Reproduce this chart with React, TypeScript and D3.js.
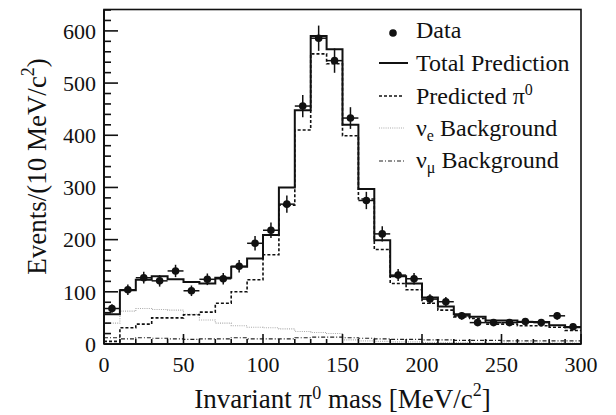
import React from 'react';
import * as d3 from 'd3';

const binCenters = [5, 15, 25, 35, 45, 55, 65, 75, 85, 95, 105, 115, 125, 135, 145, 155, 165, 175, 185, 195, 205, 215, 225, 235, 245, 255, 265, 275, 285, 295];
const dataCounts = [68, 104, 127, 121, 140, 102, 124, 125, 149, 193, 218, 268, 456, 586, 543, 433, 275, 211, 132, 125, 86, 81, 54, 41, 41, 41, 43, 41, 54, 33];
const totalPrediction = [57, 103, 123, 130, 124, 119, 116, 127, 148, 164, 209, 300, 448, 590, 565, 420, 297, 199, 130, 116, 89, 72, 57, 52, 45, 45, 42, 42, 36, 32];
const predictedPi0 = [5, 31, 38, 50, 50, 56, 61, 78, 100, 123, 171, 266, 410, 556, 537, 399, 278, 181, 116, 104, 78, 65, 52, 49, 38, 38, 35, 35, 32, 26];
const nueBackground = [40, 63, 68, 66, 65, 57, 46, 40, 35, 32, 31, 29, 24, 22, 20, 8, 6, 5, 4, 4, 3, 3, 3, 2, 2, 2, 2, 2, 2, 2];
const numuBackground = [12, 10, 12, 11, 10, 9, 10, 10, 12, 10, 10, 10, 12, 13, 13, 12, 11, 10, 9, 9, 8, 8, 7, 7, 7, 6, 6, 6, 6, 6];
const xTicks = [0, 50, 100, 150, 200, 250, 300];
const yTicks = [0, 100, 200, 300, 400, 500, 600];
const binWidth = 10;

const FONT = "'Liberation Serif', 'DejaVu Serif', serif";

export default function App() {
  const W = 616, H = 415;
  const x = d3.scaleLinear().domain([0, 300]).range([104, 581]);
  const y = d3.scaleLinear().domain([0, 641]).range([344, 9.5]);

  const step = (vals: number[]) => {
    const pts: [number, number][] = vals.map((v, i) => [binCenters[i] - binWidth / 2, v]);
    pts.push([binCenters[binCenters.length - 1] + binWidth / 2, vals[vals.length - 1]]);
    return d3.line<[number, number]>().x(d => x(d[0])).y(d => y(d[1])).curve(d3.curveStepAfter)(pts) || '';
  };

  const xMinor = d3.range(0, 301, 10);
  const yMinor = d3.range(0, 641, 20);

  return (
    <svg width={W} height={H} style={{ position: 'absolute', left: 0, top: 0, background: '#fff' }} fontFamily={FONT}>
      <rect x={0} y={0} width={W} height={H} fill="#fff" />
      {/* histograms */}
      <path d={step(numuBackground)} fill="none" stroke="#222" strokeWidth={1.2} strokeDasharray="4,2,1,2" />
      <path d={step(nueBackground)} fill="none" stroke="#aaa" strokeWidth={1.1} strokeDasharray="1,1.2" />
      <path d={step(predictedPi0)} fill="none" stroke="#111" strokeWidth={1.6} strokeDasharray="3,2" />
      <path d={step(totalPrediction)} fill="none" stroke="#111" strokeWidth={2} />
      {/* data */}
      {dataCounts.map((v, i) => {
        const err = Math.sqrt(v);
        const cx = x(binCenters[i]);
        return (
          <g key={i}>
            <line x1={x(binCenters[i] - binWidth / 2)} x2={x(binCenters[i] + binWidth / 2)} y1={y(v)} y2={y(v)} stroke="#111" strokeWidth={1.5} />
            <line x1={cx} x2={cx} y1={y(v - err)} y2={y(v + err)} stroke="#111" strokeWidth={1.5} />
            <circle cx={cx} cy={y(v)} r={3.8} fill="#111" />
          </g>
        );
      })}
      {/* frame */}
      <rect x={104} y={9.5} width={477} height={334.5} fill="none" stroke="#111" strokeWidth={1.6} />
      <line x1={104} x2={104} y1={9.5} y2={344} stroke="#111" strokeWidth={2} />
      <line x1={104} x2={581} y1={344} y2={344} stroke="#111" strokeWidth={2} />
      {/* y ticks */}
      {yMinor.map(v => (
        <line key={'ym' + v} x1={104} x2={104 + (v % 100 === 0 ? 14 : 7)} y1={y(v)} y2={y(v)} stroke="#111" strokeWidth={1.6} />
      ))}
      {yTicks.map(v => (
        <text key={'yl' + v} x={96} y={y(v)} dy="0.35em" textAnchor="end" fontSize={22} fill="#111">{v}</text>
      ))}
      {/* x ticks */}
      {xMinor.map(v => (
        <line key={'xm' + v} x1={x(v)} x2={x(v)} y1={344} y2={344 - (v % 50 === 0 ? 10 : 5)} stroke="#111" strokeWidth={1.6} />
      ))}
      {xTicks.map(v => (
        <text key={'xl' + v} x={x(v)} y={372} textAnchor="middle" fontSize={22} fill="#111">{v}</text>
      ))}
      {/* axis titles */}
      <text x={342.5} y={408} textAnchor="middle" fontSize={27} fill="#111">
        Invariant π<tspan fontSize={18} dy={-9}>0</tspan><tspan dy={9}> mass [MeV/c</tspan><tspan fontSize={18} dy={-12}>2</tspan><tspan dy={12}>]</tspan>
      </text>
      <text transform="translate(46,166.5) rotate(-90)" textAnchor="middle" fontSize={27} fill="#111">
        Events/(10 MeV/c<tspan fontSize={18} dy={-12}>2</tspan><tspan dy={12}>)</tspan>
      </text>
      {/* legend */}
      <g fontSize={24} fill="#111">
        <circle cx={393} cy={33} r={3.8} fill="#111" />
        <text x={416} y={38}>Data</text>
        <line x1={379} x2={408} y1={63} y2={63} stroke="#111" strokeWidth={2} />
        <text x={416} y={71}>Total Prediction</text>
        <line x1={379} x2={404} y1={96} y2={96} stroke="#111" strokeWidth={1.6} strokeDasharray="3,2" />
        <text x={416} y={103.5}>Predicted π<tspan fontSize={16} dy={-9}>0</tspan></text>
        <line x1={379} x2={404} y1={128} y2={128} stroke="#aaa" strokeWidth={1.1} strokeDasharray="1,1.2" />
        <text x={416} y={136}>ν<tspan fontSize={16} dy={5}>e</tspan><tspan dy={-5}> Background</tspan></text>
        <line x1={379} x2={404} y1={161} y2={161} stroke="#222" strokeWidth={1.2} strokeDasharray="4,2,1,2" />
        <text x={416} y={168}>ν<tspan fontSize={16} dy={5}>μ</tspan><tspan dy={-5}> Background</tspan></text>
      </g>
    </svg>
  );
}
